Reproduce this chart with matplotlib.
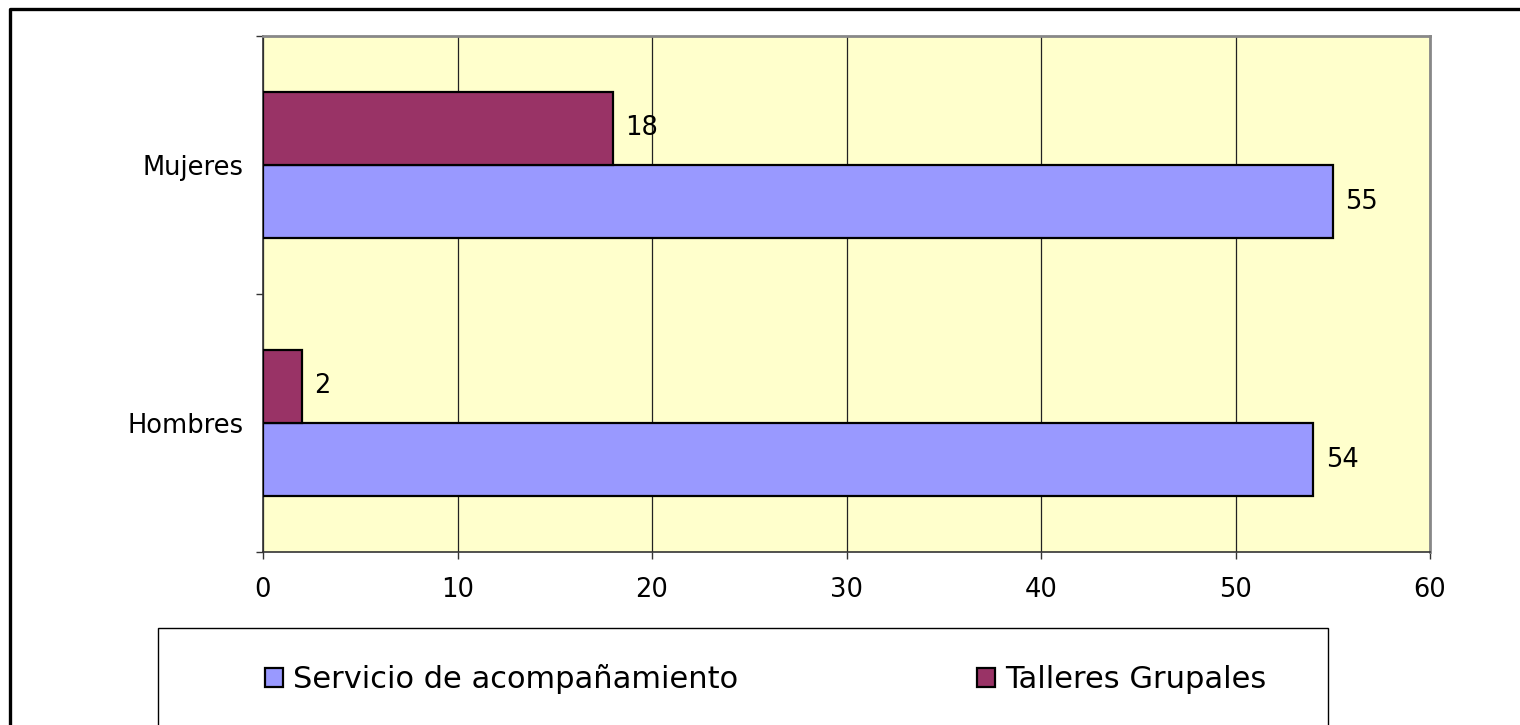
import matplotlib.pyplot as plt
from matplotlib.patches import Rectangle
from matplotlib.lines import Line2D
import numpy as np

# participantes por sexo y tipo de atención
categories = ["Hombres", "Mujeres"]
series_names = ["Servicio de acompañamiento", "Talleres Grupales"]
servicio = [54, 55]
talleres = [2, 18]
x_ticks = [0, 10, 20, 30, 40, 50, 60]

W, H = 1520, 725
fig = plt.figure(figsize=(W / 100, H / 100), dpi=100)
ax = fig.add_axes([263 / W, 1 - 552 / H, (1430 - 263) / W, (552 - 36) / H])
ax.set_facecolor("#FFFFCC")

y = np.arange(len(categories))
bar_h = 0.283
b1 = ax.barh(y - bar_h / 2, servicio, height=bar_h, color="#9999FF",
             edgecolor="black", linewidth=1.6, zorder=3)
b2 = ax.barh(y + bar_h / 2, talleres, height=bar_h, color="#993366",
             edgecolor="black", linewidth=1.6, zorder=3)

# etiquetas de valor a la derecha de cada barra
for bars, vals in ((b1, servicio), (b2, talleres)):
    for rect, v in zip(bars, vals):
        ax.annotate(str(v), (v, rect.get_y() + rect.get_height() / 2),
                    xytext=(9, 0), textcoords="offset points",
                    va="center", ha="left", fontsize=18.5)

ax.set_xlim(x_ticks[0], x_ticks[-1])
ax.set_ylim(-0.5, len(categories) - 0.5)
ax.set_xticks(x_ticks)
ax.set_xticklabels([str(t) for t in x_ticks])
ax.grid(axis="x", color="#222222", linewidth=0.9, zorder=1)

# marcas en los límites de categoría, etiquetas en el centro
ax.set_yticks(np.arange(len(categories) + 1) - 0.5)
ax.set_yticklabels([])
ax.set_yticks(y, minor=True)
ax.set_yticklabels(categories, minor=True)
ax.tick_params(axis="y", which="minor", length=0, pad=14, labelsize=18.5)
ax.tick_params(axis="y", which="major", length=5, width=1, color="#333333")
ax.tick_params(axis="x", length=5, width=1, color="#333333", pad=13,
               labelsize=18.5)

for side in ("top", "right"):
    ax.spines[side].set_color("#888888")
    ax.spines[side].set_linewidth(2)
for side in ("left", "bottom"):
    ax.spines[side].set_color("#333333")
    ax.spines[side].set_linewidth(1.2)

# caja de la leyenda
fig.patches.append(Rectangle((158 / W, -0.01), (1328 - 158) / W, 1 - 628 / H + 0.01,
                             transform=fig.transFigure, facecolor="none",
                             edgecolor="black", linewidth=1))
fig.legend([b1, b2], series_names, loc="center left",
           bbox_to_anchor=(265 / W, 1 - 679 / H), ncol=2, frameon=False,
           borderpad=0, borderaxespad=0, handlelength=0.6, handleheight=0.6,
           handletextpad=0.33, columnspacing=7.8, fontsize=22)

# marco exterior
fig.lines.append(Line2D([10 / W, 10 / W, 1], [0, 1 - 9 / H, 1 - 9 / H],
                        transform=fig.transFigure, color="black", linewidth=2.4))

fig.savefig("out.png", dpi=100)
